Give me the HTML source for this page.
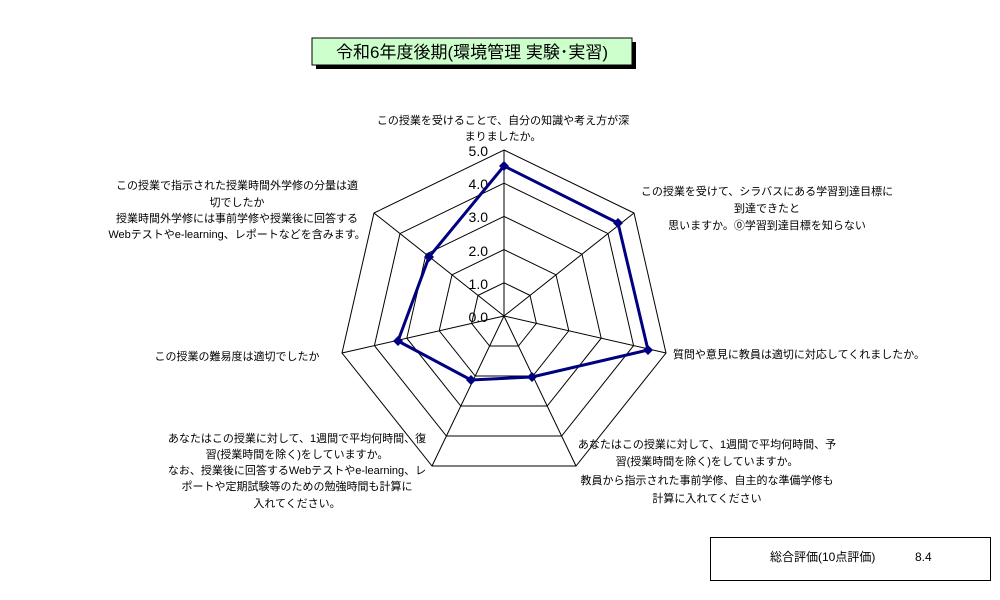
<!DOCTYPE html>
<html><head><meta charset="utf-8"><style>
html,body{margin:0;padding:0;background:#fff;}
body{width:1000px;height:600px;position:relative;overflow:hidden;font-family:"Liberation Sans","Noto Sans CJK JP",sans-serif;}
svg{position:absolute;left:0;top:0;}
</style></head><body>
<svg width="1000" height="600" viewBox="0 0 1000 600" xmlns="http://www.w3.org/2000/svg" font-family="Liberation Sans, Noto Sans CJK JP, sans-serif">
<rect x="316" y="42" width="320" height="27" fill="#000"/>
<rect x="312" y="38" width="320" height="27" fill="#ccffcc" stroke="#000" stroke-width="1"/>
<text x="472" y="58" font-size="17" text-anchor="middle" fill="#000">令和6年度後期(環境管理 実験･実習)</text>

<g fill="none" stroke="#000" stroke-width="1">
<polygon points="504,150 634,213 666,353 576,466 432,466 342,353 374,213"/>
<polygon points="504,183.2 608,233.6 633.6,345.6 561.6,436 446.4,436 374.4,345.6 400,233.6"/>
<polygon points="504,216.4 582,254.2 601.2,338.2 547.2,406 460.8,406 406.8,338.2 426,254.2"/>
<polygon points="504,249.6 556,274.8 568.8,330.8 532.8,376 475.2,376 439.2,330.8 452,274.8"/>
<polygon points="504,282.8 530,295.4 536.4,323.4 518.4,346 489.6,346 471.6,323.4 478,295.4"/>
<line x1="504" y1="316" x2="504" y2="150"/>
<line x1="504" y1="316" x2="634" y2="213"/>
<line x1="504" y1="316" x2="666" y2="353"/>
<line x1="504" y1="316" x2="576" y2="466"/>
<line x1="504" y1="316" x2="432" y2="466"/>
<line x1="504" y1="316" x2="342" y2="353"/>
<line x1="504" y1="316" x2="374" y2="213"/>
</g>
<g font-size="14" text-anchor="end" fill="#000">
<text x="488" y="156">5.0</text>
<text x="488" y="189">4.0</text>
<text x="488" y="222">3.0</text>
<text x="488" y="256">2.0</text>
<text x="488" y="289">1.0</text>
<text x="488" y="322">0.0</text>
</g>
<polygon points="504,166 618,223 648,350 532,377 471,380 398,341 429,257" fill="none" stroke="#000080" stroke-width="3"/>
<g fill="#000080">
<path d="M504,161 l5,5 -5,5 -5,-5z"/>
<path d="M618,218 l5,5 -5,5 -5,-5z"/>
<path d="M648,345 l5,5 -5,5 -5,-5z"/>
<path d="M532,372 l5,5 -5,5 -5,-5z"/>
<path d="M471,375 l5,5 -5,5 -5,-5z"/>
<path d="M398,336 l5,5 -5,5 -5,-5z"/>
<path d="M429,252 l5,5 -5,5 -5,-5z"/>
</g>
<g font-size="11" fill="#000" text-anchor="middle">
<text x="503" y="124">この授業を受けることで、自分の知識や考え方が深</text>
<text x="503" y="140">まりましたか。</text>
<text x="767" y="195">この授業を受けて、シラバスにある学習到達目標に</text>
<text x="767" y="212">到達できたと</text>
<text x="767" y="229">思いますか。⓪学習到達目標を知らない</text>
<text x="799" y="358">質問や意見に教員は適切に対応してくれましたか。</text>
<text x="707" y="448">あなたはこの授業に対して、1週間で平均何時間、予</text>
<text x="707" y="465">習(授業時間を除く)をしていますか。</text>
<text x="707" y="484">教員から指示された事前学修、自主的な準備学修も</text>
<text x="707" y="502">計算に入れてください</text>
<text x="297" y="442">あなたはこの授業に対して、1週間で平均何時間、復</text>
<text x="297" y="458">習(授業時間を除く)をしていますか。</text>
<text x="297" y="474">なお、授業後に回答するWebテストやe-learning、レ</text>
<text x="297" y="490">ポートや定期試験等のための勉強時間も計算に</text>
<text x="297" y="507">入れてください。</text>
<text x="237" y="360">この授業の難易度は適切でしたか</text>
<text x="237" y="189">この授業で指示された授業時間外学修の分量は適</text>
<text x="237" y="206">切でしたか</text>
<text x="237" y="222">授業時間外学修には事前学修や授業後に回答する</text>
<text x="237" y="238">Webテストやe-learning、レポートなどを含みます。</text>
</g>
<rect x="710.5" y="537.5" width="280" height="43" fill="#fff" stroke="#000"/>
<text x="770" y="561" font-size="12" fill="#000">総合評価(10点評価)</text>
<text x="915" y="561" font-size="12" fill="#000">8.4</text>
</svg>
</body></html>
